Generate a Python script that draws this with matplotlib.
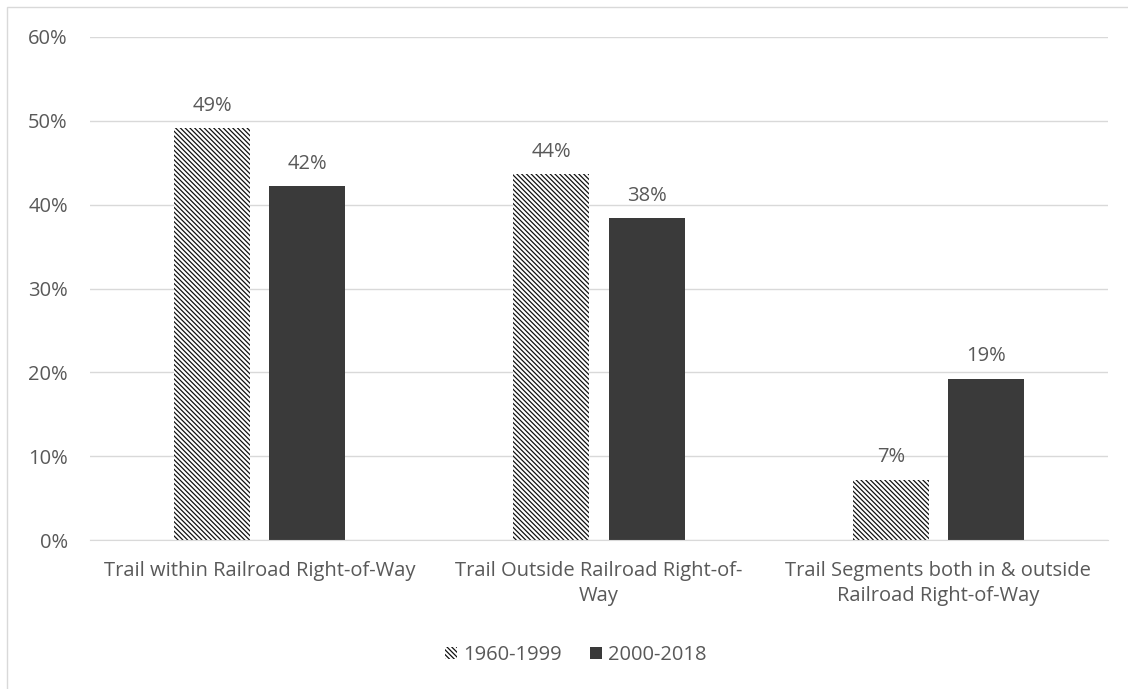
import matplotlib
matplotlib.use('Agg')
import matplotlib.pyplot as plt
import numpy as np

categories = ["Trail within Railroad Right-of-Way",
              "Trail Outside Railroad Right-of-\nWay",
              "Trail Segments both in & outside\nRailroad Right-of-Way"]
series_names = ["1960-1999", "2000-2018"]
early = [49.1, 43.6, 7.2]
late = [42.2, 38.4, 19.2]
early_labels = ["49%", "44%", "7%"]
late_labels = ["42%", "38%", "19%"]

grey = '#595959'
fs = 14.5
plt.rcParams['font.family'] = ['Open Sans', 'DejaVu Sans']
plt.rcParams['hatch.linewidth'] = 0.9

fig = plt.figure(figsize=(11.28, 6.89), dpi=100)
ax = fig.add_axes([90 / 1128, 1 - 540 / 689, 1018 / 1128, 503 / 689])

x = np.arange(len(categories))
w = 0.224
off = 0.14
b1 = ax.bar(x - off, early, w, color='white', edgecolor='#111111', hatch='\\' * 7, linewidth=0, label=series_names[0])
b2 = ax.bar(x + off, late, w, color='#3a3a3a', label=series_names[1])

for bars, labels in [(b1, early_labels), (b2, late_labels)]:
    for rect, lab in zip(bars, labels):
        ax.text(rect.get_x() + rect.get_width() / 2, rect.get_height() + 1.5, lab,
                ha='center', va='bottom', fontsize=fs, color=grey)

ax.set_ylim(0, 60)
ax.set_xlim(-0.5, 2.5)
ax.set_yticks(np.arange(0, 61, 10))
ax.set_yticklabels([f"{v}%" for v in range(0, 61, 10)])
ax.set_xticks(x)
ax.set_xticklabels(categories, linespacing=1.35)
ax.tick_params(axis='both', length=0, labelsize=fs, labelcolor=grey)
ax.tick_params(axis='y', pad=16)
ax.tick_params(axis='x', pad=15)
ax.grid(axis='y', color='#d9d9d9', linewidth=1)
ax.set_axisbelow(True)
for s in ['top', 'right', 'left']:
    ax.spines[s].set_visible(False)
ax.spines['bottom'].set_color('#d9d9d9')

leg = fig.legend(loc='center', bbox_to_anchor=(576 / 1128, 1 - 655 / 689), ncol=2, frameon=False,
                 fontsize=fs, handlelength=0.6, handleheight=0.6, handletextpad=0.3, columnspacing=1.4)
for t in leg.get_texts():
    t.set_color(grey)

fig.patches.append(plt.Rectangle((0.006, -0.01), 1.1, 1.0, transform=fig.transFigure,
                                 fill=False, edgecolor='#d9d9d9', linewidth=1))

fig.savefig('out.png', dpi=100)
